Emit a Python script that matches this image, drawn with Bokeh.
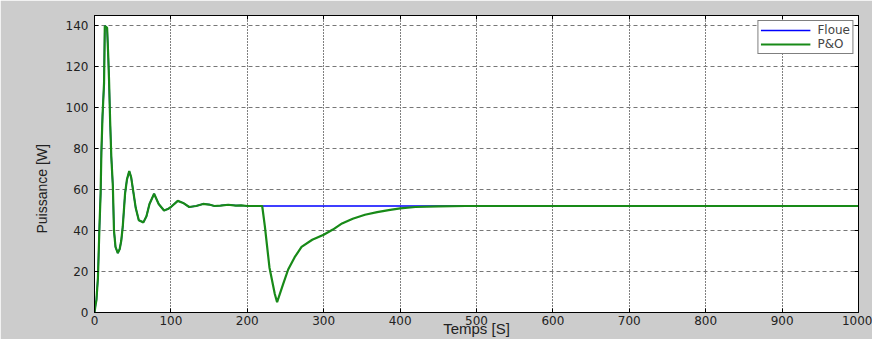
from bokeh.plotting import figure
from bokeh.models import Range1d, LinearAxis, FixedTicker, Legend, LegendItem, Title
from bokeh.embed import file_html
from bokeh.resources import INLINE

# Start-up transient (shared by both controllers)
t_start = [0, 1.5, 2.5, 4.5, 6.5, 8, 9, 10.5, 12.5, 13.5, 16.5, 18, 19, 20.5, 22, 24,
           25.5, 27.5, 30.5, 33, 35, 37, 40, 42.5, 45.5, 48, 50, 54, 58, 64, 68, 72,
           78, 84, 91, 96, 100, 109, 116, 124, 133, 142, 150, 157, 165, 175, 185, 192, 200]
p_start = [0, 4, 6, 17, 42, 58, 78, 96, 112, 140, 139, 125, 114, 93, 76, 62,
           40, 32, 29, 31, 35, 42, 58, 65, 69, 66, 61, 51, 45, 44, 47, 53,
           58, 53, 49.8, 50.5, 51.5, 54.5, 53.5, 51.5, 52, 53, 52.7, 52, 52.2, 52.6, 52.2, 52.3, 52]

# Floue: stays at steady state
t_floue_tail = [1000]
p_floue_tail = [52]

# P&O: dip after the disturbance, then slow recovery
t_po_tail = [219.5, 223, 229, 236, 239, 242.5, 247, 253.5, 262, 271, 285, 300, 312, 324,
             338, 354, 370, 385, 400, 420, 450, 486, 600, 800, 1000]
p_po_tail = [52, 42, 22, 9, 5, 9, 14, 21, 27, 32, 35.5, 38, 40.5, 43.5,
             45.8, 47.7, 49, 50, 50.8, 51.5, 51.8, 52, 52, 52, 52]

x_ticks = [0, 100, 200, 300, 400, 500, 600, 700, 800, 900, 1000]
y_ticks = [0, 20, 40, 60, 80, 100, 120, 140]

t_floue = t_start + t_floue_tail
p_floue = p_start + p_floue_tail
t_po = t_start + t_po_tail
p_po = p_start + p_po_tail

p = figure(width=872, height=339, output_backend="svg", toolbar_location=None,
           x_range=Range1d(0, 1000), y_range=Range1d(0, 145),
           min_border_left=94, min_border_right=14, min_border_top=15, min_border_bottom=27)
p.background_fill_color = "white"
p.border_fill_color = "#cccccc"
p.outline_line_color = "black"
p.outline_line_width = 1

FONT = "DejaVu Sans"
for ax in [p.xaxis[0], p.yaxis[0]]:
    ax.major_tick_in = 4
    ax.major_tick_out = 0
    ax.minor_tick_line_color = None
    ax.axis_line_color = "black"
    ax.major_label_text_font = FONT
    ax.major_label_text_font_size = "12px"
    ax.major_label_text_color = "#222222"
p.xaxis[0].ticker = FixedTicker(ticks=x_ticks)
p.yaxis[0].ticker = FixedTicker(ticks=y_ticks)
p.xaxis[0].major_label_standoff = 3
p.yaxis[0].major_label_standoff = 6
p.xaxis[0].axis_label = "Temps [S]"
p.xaxis[0].axis_label_text_font = "Liberation Sans"
p.xaxis[0].axis_label_text_font_size = "15px"
p.xaxis[0].axis_label_text_font_style = "normal"
p.xaxis[0].axis_label_text_color = "#222222"
p.xaxis[0].axis_label_standoff = -8

# top and right axes with inward ticks only
top = LinearAxis(ticker=FixedTicker(ticks=x_ticks),
                 major_label_overrides={t: "" for t in x_ticks},
                 major_tick_in=4, major_tick_out=0, minor_tick_line_color=None,
                 major_label_standoff=0)
right = LinearAxis(ticker=FixedTicker(ticks=y_ticks),
                   major_label_overrides={t: "" for t in y_ticks},
                   major_tick_in=4, major_tick_out=0, minor_tick_line_color=None,
                   major_label_standoff=0)
p.add_layout(top, "above")
p.add_layout(right, "right")

p.xgrid.grid_line_color = "black"
p.xgrid.grid_line_dash = "1 2"
p.xgrid.grid_line_width = 1
p.xgrid.ticker = FixedTicker(ticks=x_ticks)
p.ygrid.grid_line_color = "#777777"
p.ygrid.grid_line_dash = "4 3"
p.ygrid.grid_line_width = 1
p.ygrid.ticker = FixedTicker(ticks=y_ticks)

r_floue = p.line(t_floue, p_floue, line_color="#0000ff", line_width=1.5)
r_po = p.line(t_po, p_po, line_color="#188a18", line_width=2.2)

legend = Legend(items=[LegendItem(label="Floue", renderers=[r_floue]),
                       LegendItem(label="P&O", renderers=[r_po])],
                location="top_right", margin=5, padding=2, spacing=0,
                glyph_width=50, glyph_height=6, label_height=6, label_standoff=7,
                label_text_font=FONT, label_text_font_size="12px",
                border_line_color="black", border_line_width=1,
                background_fill_alpha=1)
p.add_layout(legend)

ylab = Title(text="Puissance [W]", align="left", offset=79, standoff=25,
             text_font="Liberation Sans", text_font_size="14px",
             text_font_style="normal", text_color="#222222")
p.add_layout(ylab, "left")

open("out.html", "w").write(file_html(p, INLINE))
